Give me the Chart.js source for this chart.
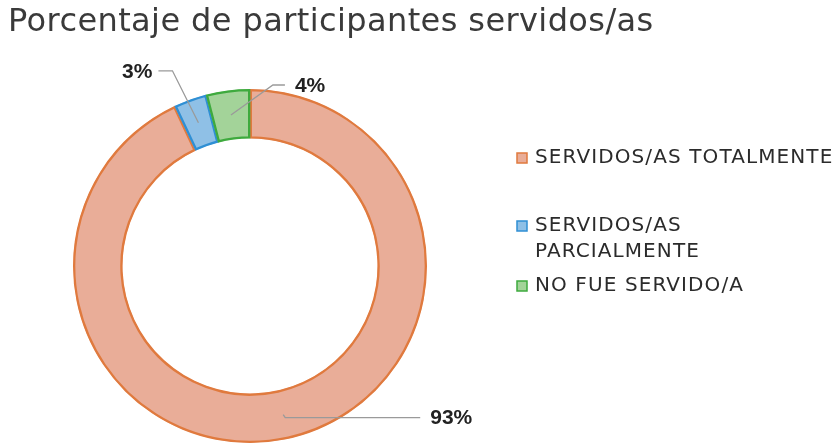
<!DOCTYPE html>
<html>
<head>
<meta charset="utf-8">
<script src="https://cdn.jsdelivr.net/npm/chart.js@4.4.1/dist/chart.umd.min.js"></script>
<style>
  html, body { margin: 0; padding: 0; background: #fff; overflow: hidden; }
  #grafico { display: block; }
</style>
</head>
<body>
<canvas id="grafico" width="838" height="443"></canvas>
<script>
// Datos del gráfico
const titulo = "Porcentaje de participantes servidos/as";
const categorias = [
  "SERVIDOS/AS TOTALMENTE",
  ["SERVIDOS/AS", "PARCIALMENTE"],
  "NO FUE SERVIDO/A",
];
const porcentajes = [93, 3, 4];

// Colores
const rellenos = ["#e9ad98", "#8fc0e6", "#a3d399"];
const bordes = ["#e07a3e", "#2f8fd4", "#3eaa3e"];

// Desplazamiento de las líneas guía (codo y tramo horizontal)
const guias = [
  { dx: 2, dy: 3, h: 135 },
  { dx: -26, dy: -52, h: -14 },
  { dx: 42, dy: -30, h: 12 },
];

const fuenteTexto = "'DejaVu Sans', sans-serif";

const pluginTextos = {
  id: "textos",
  afterDraw(chart) {
    const ctx = chart.ctx;
    ctx.save();

    // Título
    ctx.fillStyle = "#3a3a3a";
    ctx.font = "32px " + fuenteTexto;
    ctx.letterSpacing = "0.4px";
    ctx.textAlign = "left";
    ctx.textBaseline = "alphabetic";
    ctx.fillText(titulo, 8, 31);

    // Etiquetas con líneas guía
    ctx.letterSpacing = "0px";
    const meta = chart.getDatasetMeta(0);
    meta.data.forEach((arco, i) => {
      const p = arco.getProps(["startAngle", "endAngle", "innerRadius", "outerRadius", "x", "y"], true);
      const ang = (p.startAngle + p.endAngle) / 2;
      const r = (p.innerRadius + p.outerRadius) / 2;
      const ax = p.x + Math.cos(ang) * r;
      const ay = p.y + Math.sin(ang) * r;
      const g = guias[i];
      const ex = ax + g.dx;
      const ey = ay + g.dy;
      const fx = ex + g.h;

      ctx.strokeStyle = "#9a9a9a";
      ctx.lineWidth = 1.3;
      ctx.beginPath();
      ctx.moveTo(ax, ay);
      ctx.lineTo(ex, ey);
      ctx.lineTo(fx, ey);
      ctx.stroke();

      ctx.fillStyle = "#222";
      ctx.font = "bold 21px 'Liberation Sans', Arial, sans-serif";
      ctx.textBaseline = "middle";
      ctx.textAlign = g.h < 0 ? "right" : "left";
      ctx.fillText(porcentajes[i] + "%", fx + (g.h < 0 ? -6 : 10), ey + 1);
    });

    // Leyenda
    const lx = 517;
    const tx = 535;
    const filas = [158, 226, 286];
    const interlinea = 26;
    ctx.font = "20px " + fuenteTexto;
    ctx.letterSpacing = "1.1px";
    ctx.textAlign = "left";
    ctx.textBaseline = "middle";
    categorias.forEach((cat, i) => {
      const y = filas[i];
      ctx.fillStyle = rellenos[i];
      ctx.strokeStyle = bordes[i];
      ctx.lineWidth = 1.5;
      ctx.fillRect(lx, y - 5, 10, 10);
      ctx.strokeRect(lx, y - 5, 10, 10);
      ctx.fillStyle = "#2b2b2b";
      const lineas = Array.isArray(cat) ? cat : [cat];
      lineas.forEach((t, j) => ctx.fillText(t, tx, y + j * interlinea));
    });

    ctx.restore();
  },
};

const chart = new Chart(document.getElementById("grafico"), {
  type: "doughnut",
  data: {
    labels: categorias,
    datasets: [
      {
        data: porcentajes,
        backgroundColor: rellenos,
        borderColor: bordes,
        borderWidth: 2,
        borderAlign: "inner",
      },
    ],
  },
  options: {
    responsive: false,
    animation: false,
    cutout: "72%",
    layout: { padding: { left: 0, right: 338, top: 89, bottom: 0 } },
    plugins: {
      legend: { display: false },
      tooltip: { enabled: false },
    },
  },
  plugins: [pluginTextos],
});
</script>
</body>
</html>
